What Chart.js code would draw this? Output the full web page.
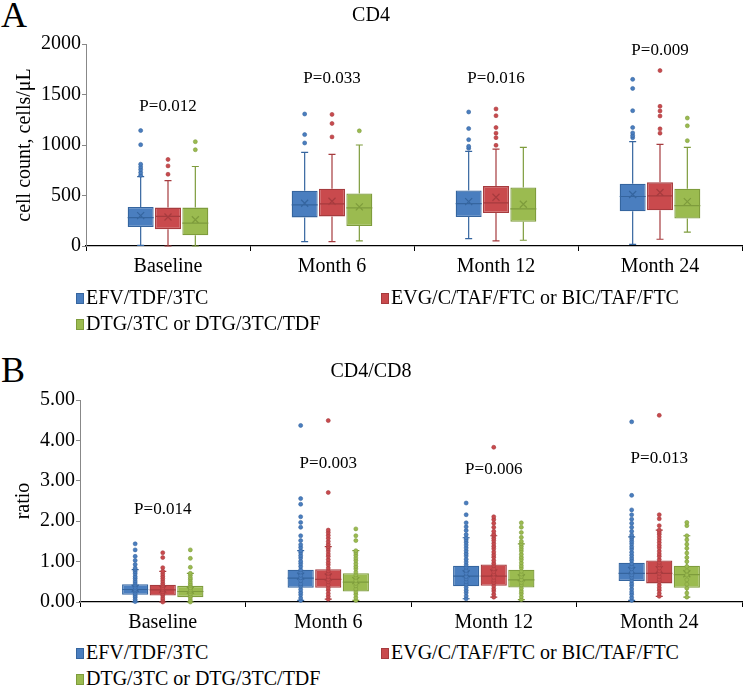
<!DOCTYPE html>
<html>
<head>
<meta charset="utf-8">
<script src="https://cdn.jsdelivr.net/npm/chart.js@4.4.1/dist/chart.umd.min.js"></script>
<style>
  body { margin: 0; width: 744px; height: 688px; background: #fff; position: relative; overflow: hidden;
         font-family: "Liberation Serif", serif; color: #000; }
  canvas { position: absolute; left: 0; }
  .tag { position: absolute; left: 1px; font-size: 36px; line-height: 1; }
  .item { position: absolute; white-space: nowrap; font-size: 20px; line-height: 24px; }
  .item i { display: inline-block; width: 6px; height: 9px; margin-right: 2px; vertical-align: 0px; border: 1px solid; }
</style>
</head>
<body>
<div class="tag" style="top:-3px">A</div>
<canvas id="cd4" width="744" height="290" style="top:0"></canvas>
<div id="legendA"></div>

<div class="tag" style="top:352px">B</div>
<canvas id="ratio" width="744" height="300" style="top:340px"></canvas>
<div id="legendB"></div>

<script>
// categories and the 3 regimens (rows of every array below follow this order)
const categories = ['Baseline', 'Month 6', 'Month 12', 'Month 24'];
const regimens = ['EFV/TDF/3TC', 'EVG/C/TAF/FTC or BIC/TAF/FTC', 'DTG/3TC or DTG/3TC/TDF'];
const fills = ['#4A7EBF', '#C94A4D', '#9BBB50'];
const edges = ['#35659F', '#A63B3E', '#7E9C3C'];

// --- CD4, cells/uL ---
const cd4Min    = [[7, 43, 73, 17], [0, 43, 50, 67], [0, 50, 57, 137]];
const cd4Q1     = [[187, 283, 287, 343], [167, 293, 327, 353], [107, 197, 240, 273]];
const cd4Median = [[280, 407, 420, 490], [293, 417, 427, 497], [227, 377, 367, 400]];
const cd4Q3     = [[387, 547, 550, 617], [380, 567, 593, 630], [380, 520, 580, 567]];
const cd4Max    = [[687, 927, 937, 1033], [647, 907, 960, 1007], [787, 1000, 977, 977]];
const cd4Mean   = [[300, 423, 440, 510], [287, 443, 483, 530], [260, 387, 413, 440]];
const cd4Outliers = [
  [[700, 727, 757, 783, 810, 1003, 1143], [1020, 1103, 1307], [967, 987, 1053, 1163, 1327], [1073, 1093, 1120, 1173, 1340, 1560, 1650]],
  [[710, 793, 857], [1080, 1213, 1303], [997, 1073, 1117, 1173, 1290, 1357], [1117, 1160, 1287, 1337, 1383, 1737]],
  [[953, 1033], [1140], [], [1043, 1190, 1267]]
];
const cd4P   = ['P=0.012', 'P=0.033', 'P=0.016', 'P=0.009'];
const cd4PAt = [1380, 1660, 1660, 1940];

// --- CD4/CD8 ratio ---
const ratioMin    = [[0, 0.04, 0.08, 0.04], [0, 0.07, 0.12, 0.14], [0, 0.04, 0.06, 0.12]];
const ratioQ1     = [[0.18, 0.35, 0.39, 0.52], [0.16, 0.35, 0.40, 0.46], [0.12, 0.26, 0.36, 0.35]];
const ratioMedian = [[0.31, 0.59, 0.64, 0.71], [0.30, 0.56, 0.64, 0.71], [0.26, 0.49, 0.55, 0.68]];
const ratioQ3     = [[0.44, 0.80, 0.90, 0.97], [0.43, 0.81, 0.93, 1.03], [0.40, 0.71, 0.80, 0.90]];
const ratioMax    = [[0.80, 1.27, 1.59, 1.61], [0.76, 1.37, 1.64, 1.78], [0.71, 1.27, 1.44, 1.64]];
const ratioMean   = [[0.34, 0.64, 0.70, 0.78], [0.32, 0.62, 0.72, 0.80], [0.29, 0.53, 0.60, 0.70]];
// inner points (shown in panel B only)
const ratioInner = [
  [[0.01, 0.06, 0.12, 0.16, 0.21, 0.27, 0.31, 0.36, 0.42, 0.47, 0.52, 0.58, 0.63, 0.70, 0.75, 0.80],
   [0.04, 0.10, 0.18, 0.24, 0.31, 0.39, 0.45, 0.53, 0.60, 0.66, 0.74, 0.80, 0.88, 0.95, 1.01, 1.09, 1.15, 1.22, 1.27],
   [0.08, 0.15, 0.23, 0.29, 0.36, 0.44, 0.50, 0.57, 0.63, 0.71, 0.78, 0.86, 0.92, 0.99, 1.06, 1.14, 1.20, 1.27, 1.34, 1.41, 1.48, 1.54, 1.59],
   [0.04, 0.11, 0.19, 0.25, 0.32, 0.40, 0.46, 0.53, 0.61, 0.67, 0.74, 0.82, 0.88, 0.95, 1.03, 1.09, 1.16, 1.23, 1.31, 1.37, 1.44, 1.50, 1.56, 1.61]],
  [[0.00, 0.05, 0.10, 0.16, 0.20, 0.25, 0.31, 0.35, 0.41, 0.46, 0.52, 0.58, 0.64, 0.70, 0.76],
   [0.07, 0.14, 0.21, 0.29, 0.35, 0.42, 0.50, 0.56, 0.63, 0.71, 0.77, 0.84, 0.92, 0.98, 1.05, 1.13, 1.19, 1.26, 1.32, 1.37],
   [0.12, 0.19, 0.27, 0.33, 0.40, 0.48, 0.54, 0.61, 0.69, 0.75, 0.82, 0.90, 0.96, 1.03, 1.11, 1.17, 1.24, 1.32, 1.38, 1.45, 1.52, 1.58, 1.64],
   [0.14, 0.21, 0.29, 0.35, 0.42, 0.50, 0.56, 0.63, 0.71, 0.77, 0.84, 0.92, 0.98, 1.05, 1.13, 1.19, 1.26, 1.34, 1.40, 1.47, 1.54, 1.61, 1.68, 1.73, 1.78]],
  [[0.00, 0.05, 0.11, 0.15, 0.20, 0.26, 0.30, 0.35, 0.41, 0.45, 0.50, 0.56, 0.60, 0.66, 0.71],
   [0.04, 0.11, 0.19, 0.25, 0.32, 0.40, 0.46, 0.53, 0.61, 0.67, 0.74, 0.82, 0.88, 0.95, 1.03, 1.09, 1.16, 1.22, 1.27],
   [0.06, 0.13, 0.21, 0.27, 0.34, 0.42, 0.48, 0.55, 0.63, 0.69, 0.76, 0.84, 0.90, 0.97, 1.05, 1.11, 1.18, 1.26, 1.32, 1.38, 1.44],
   [0.12, 0.22, 0.34, 0.44, 0.55, 0.67, 0.77, 0.88, 1.00, 1.10, 1.21, 1.33, 1.43, 1.54, 1.64]]
];
const ratioOutliers = [
  [[0.84, 0.93, 1.03, 1.13, 1.29, 1.44], [1.35, 1.42, 1.52, 1.64, 1.85, 1.97, 2.11, 2.42, 2.56, 4.37],
   [1.67, 1.77, 1.86, 1.96, 2.16, 2.45], [1.66, 1.75, 1.85, 1.95, 2.05, 2.16, 2.28, 2.64, 4.46]],
  [[0.85, 1.10, 1.22], [1.43, 1.50, 1.58, 1.65, 1.72, 1.78, 2.71, 4.49],
   [1.68, 1.75, 1.85, 1.95, 2.04, 2.11, 3.83], [1.89, 2.06, 2.16, 4.62]],
  [[0.86, 1.08, 1.29], [1.52, 1.64, 1.81], [1.50, 1.60, 1.72, 1.85, 1.96], [1.89, 1.97]]
];
const ratioP   = ['P=0.014', 'P=0.003', 'P=0.006', 'P=0.013'];
const ratioPAt = [2.28, 3.42, 3.27, 3.55];

Chart.defaults.font.family = '"Liberation Serif", serif';
Chart.defaults.color = '#000';

// whiskers, medians, means, points and P labels, placed through the chart's own scales
function boxExtras(st) {
  const dot = (ctx, x, y, s) => {
    ctx.beginPath();
    ctx.arc(x, y, 2, 0, Math.PI * 2);
    ctx.fillStyle = fills[s];
    ctx.fill();
    ctx.lineWidth = 0.6;
    ctx.strokeStyle = edges[s];
    ctx.stroke();
  };
  return {
    id: 'boxExtras',
    beforeDatasetsDraw(chart) {
      const ctx = chart.ctx, y = chart.scales.y;
      chart.data.datasets.forEach((ds, s) => {
        chart.getDatasetMeta(s).data.forEach((bar, i) => {
          const x = bar.x;
          const top = y.getPixelForValue(st.max[s][i]);
          const bot = y.getPixelForValue(st.min[s][i]);
          ctx.save();
          ctx.strokeStyle = edges[s];
          ctx.lineWidth = 1.2;
          ctx.beginPath();
          ctx.moveTo(x, top); ctx.lineTo(x, y.getPixelForValue(st.q3[s][i]));
          ctx.moveTo(x, bot); ctx.lineTo(x, y.getPixelForValue(st.q1[s][i]));
          ctx.moveTo(x - 3.5, top); ctx.lineTo(x + 3.5, top);
          ctx.moveTo(x - 3.5, bot); ctx.lineTo(x + 3.5, bot);
          ctx.stroke();
          ctx.restore();
        });
      });
    },
    afterDatasetsDraw(chart) {
      const ctx = chart.ctx, y = chart.scales.y, xs = chart.scales.x;
      chart.data.datasets.forEach((ds, s) => {
        chart.getDatasetMeta(s).data.forEach((bar, i) => {
          const x = bar.x, half = bar.width / 2;
          ctx.save();
          ctx.strokeStyle = edges[s];
          ctx.lineWidth = 1.2;
          const ym = y.getPixelForValue(st.median[s][i]);
          ctx.beginPath();
          ctx.moveTo(x - half, ym); ctx.lineTo(x + half, ym);
          const ya = y.getPixelForValue(st.mean[s][i]);
          ctx.moveTo(x - 3.5, ya - 3.5); ctx.lineTo(x + 3.5, ya + 3.5);
          ctx.moveTo(x - 3.5, ya + 3.5); ctx.lineTo(x + 3.5, ya - 3.5);
          ctx.stroke();
          (st.inner ? st.inner[s][i] : []).forEach(v => dot(ctx, x, y.getPixelForValue(v), s));
          st.outliers[s][i].forEach(v => dot(ctx, x, y.getPixelForValue(v), s));
          ctx.restore();
        });
      });
      ctx.save();
      ctx.font = '17px "Liberation Serif"';
      ctx.fillStyle = '#000';
      ctx.textAlign = 'center';
      ctx.textBaseline = 'middle';
      st.pText.forEach((t, i) => ctx.fillText(t, xs.getPixelForValue(i), y.getPixelForValue(st.pAt[i])));
      ctx.restore();
    }
  };
}

function makeChart(id, st, cfg) {
  new Chart(document.getElementById(id), {
    type: 'bar',
    data: {
      labels: categories,
      datasets: regimens.map((name, s) => ({
        label: name,
        data: st.q1[s].map((v, i) => [v, st.q3[s][i]]),
        backgroundColor: fills[s],
        borderColor: edges[s],
        borderWidth: 1.3,
        borderSkipped: false,
        categoryPercentage: 0.5,
        barPercentage: 0.95
      }))
    },
    options: {
      responsive: false,
      animation: false,
      layout: { padding: { right: 2 } },
      plugins: {
        legend: { display: false },
        tooltip: { enabled: false },
        title: {
          display: true, text: cfg.title,
          font: { size: 20, weight: 'normal' },
          padding: { top: cfg.titleTop, bottom: cfg.titleBottom }
        }
      },
      scales: {
        x: {
          grid: { offset: true, drawOnChartArea: false, tickLength: 5, color: '#000' },
          border: { color: '#000', width: 1.3 },
          ticks: { font: { size: 20 }, padding: 4 },
          afterFit: sc => { sc.height = cfg.xHeight; }
        },
        y: {
          min: 0, max: cfg.max,
          grid: { drawOnChartArea: false, tickLength: 4, color: '#888' },
          border: { color: '#888' },
          ticks: { stepSize: cfg.step, font: { size: 20 }, padding: 1, callback: cfg.fmt },
          title: { display: true, text: cfg.yTitle, font: { size: 20 }, padding: { top: cfg.yTitlePad, bottom: 0 } },
          afterFit: sc => { sc.width = cfg.yWidth; }
        }
      }
    },
    plugins: [boxExtras(st)]
  });
}

function legend(el, top) {
  const pos = [[76, top], [381, top], [76, top + 26]];
  document.getElementById(el).innerHTML = regimens.map((name, s) =>
    `<div class="item" style="left:${pos[s][0]}px;top:${pos[s][1]}px"><i style="background:${fills[s]};border-color:${edges[s]}"></i>${name}</div>`
  ).join('');
}

makeChart('cd4', {
  min: cd4Min, q1: cd4Q1, median: cd4Median, q3: cd4Q3, max: cd4Max, mean: cd4Mean,
  outliers: cd4Outliers, pText: cd4P, pAt: cd4PAt
}, {
  title: 'CD4', titleTop: 4, titleBottom: 16, xHeight: 44, yWidth: 86, yTitlePad: 13,
  max: 2000, step: 500, fmt: v => v, yTitle: 'cell count, cells/\u03bcL'
});

makeChart('ratio', {
  min: ratioMin, q1: ratioQ1, median: ratioMedian, q3: ratioQ3, max: ratioMax, mean: ratioMean,
  inner: ratioInner, outliers: ratioOutliers, pText: ratioP, pAt: ratioPAt
}, {
  title: 'CD4/CD8', titleTop: 20, titleBottom: 16, xHeight: 38, yWidth: 80, yTitlePad: 12,
  max: 5, step: 1, fmt: v => v.toFixed(2), yTitle: 'ratio'
});

legend('legendA', 285);
legend('legendB', 640);
</script>
</body>
</html>
